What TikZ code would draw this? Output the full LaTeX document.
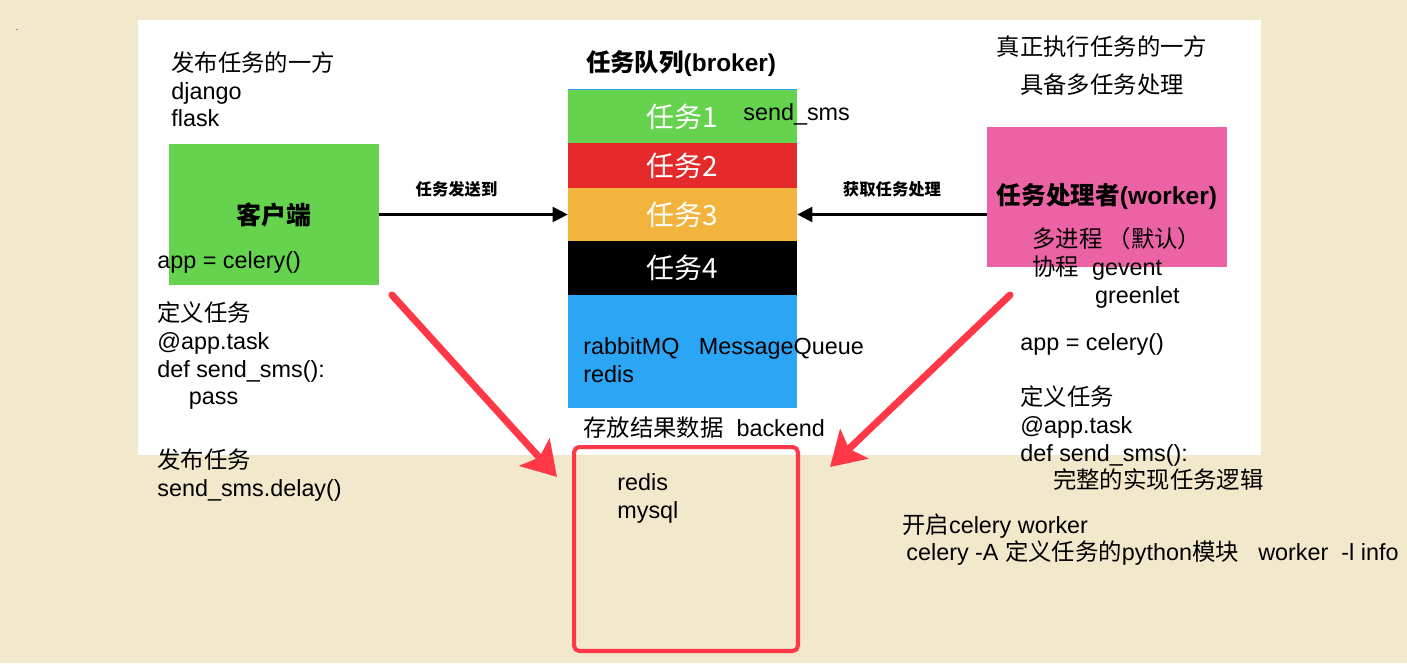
\documentclass[tikz,border=0pt]{standalone}
\usepackage{fontspec}
\setmainfont{Liberation Sans}
\newfontfamily\cjk{Noto Sans CJK SC}
\usetikzlibrary{arrows.meta, positioning}

\newcommand\zh[1]{{\cjk #1}}
\newcommand\bodyfont{\fontsize{13.3}{15.9}\selectfont}

\definecolor{paper}{HTML}{F2E8CC}
\definecolor{taskgreen}{HTML}{66D34E}
\definecolor{taskred}{HTML}{E42A2A}
\definecolor{taskorange}{HTML}{F2B43C}
\definecolor{mqblue}{HTML}{2BA6F5}
\definecolor{workerpink}{HTML}{EC63A5}
\definecolor{alertred}{HTML}{FF3848}

\tikzset{
  txt/.style={anchor=north west, inner sep=0pt, align=left, font=\bodyfont},
  seg/.style={minimum width=4.58cm, inner sep=0pt, text=white, font=\cjk\fontsize{15.9}{18}\selectfont},
  flow/.style={-{Triangle[length=8.5pt,width=8.5pt]}, line width=1.2pt},
  flowlbl/.style={above=0.2cm, font=\cjk\bfseries\fontsize{9.3}{11}\selectfont},
  hint/.style={alertred, line width=4pt, line cap=round, -{Stealth[length=19pt,width=23pt,inset=4pt]}},
}

\begin{document}
\begin{tikzpicture}[x=0.02cm, y=-0.02cm]
  \useasboundingbox (0,0) rectangle (1407,663);
  \fill[paper] (0,0) rectangle (1407,663);
  \fill[white] (138,20) rectangle (1261,455);
  \node[font=\fontsize{5}{6}\selectfont, inner sep=0pt] (dot) at (17,30) {.};

  % client side
  \node[fill=taskgreen, minimum width=4.2cm, minimum height=2.82cm, font=\cjk\bfseries\fontsize{14.2}{16}\selectfont] (client) at (274,214.5) {客户端};
  \node[txt] (pub) at (171,51) {\zh{发布任务的一方}\\django\\flask};
  \node[txt] (appl) at (157,251) {app = celery()};
  \node[txt] (defl) at (157,301) {\zh{定义任务}\\@app.task\\def send\_sms():\\\hspace*{18pt}pass};
  \node[txt] (publ) at (157,448) {\zh{发布任务}\\send\_sms.delay()};

  % broker column
  \node[font=\bfseries\fontsize{13.9}{16}\selectfont] (title) at (681,64) {\zh{任务队列}(broker)};
  \node[seg, fill=taskgreen, minimum height=1.06cm] (t1) at (682.5,116.5) {任务1};
  \node[seg, fill=taskred, minimum height=0.9cm] (t2) at (682.5,165.5) {任务2};
  \node[seg, fill=taskorange, minimum height=1.06cm] (t3) at (682.5,214.5) {任务3};
  \node[seg, fill=black, minimum height=1.08cm] (t4) at (682.5,268) {任务4};
  \node[fill=mqblue, minimum width=4.58cm, minimum height=2.26cm, inner sep=0pt] (mq) at (682.5,351.5) {};
  \draw[mqblue] (t1.north west) -- (t1.north east);
  \node[txt] (sms) at (743,103) {send\_sms};
  \node[txt] (brokers) at (583,337) {rabbitMQ\ \ \ MessageQueue\\redis};
  \node[txt] (backend) at (583,416) {\zh{存放结果数据}\ \ backend};

  % result store
  \node[draw=alertred, line width=2.3pt, rounded corners=3pt, minimum width=4.48cm, minimum height=4.08cm] (store) at (686,549) {};
  \node[txt] (stores) at (617,473) {redis\\mysql};

  % worker side
  \node[fill=workerpink, minimum width=4.8cm, minimum height=2.8cm, font=\bfseries\fontsize{14}{16}\selectfont] (worker) at (1107,197) {\zh{任务处理者}(worker)};
  \node[txt, align=center, anchor=north, font=\cjk\fontsize{13.3}{22.1}\selectfont] (execs) at (1102,35) {真正执行任务的一方\\具备多任务处理};
  \node[txt] (modes) at (1032,227) {\zh{多进程 （默认）}\\\zh{协程}\ \ gevent\\\hspace*{35.7pt}greenlet};
  \node[txt] (appr) at (1020,333) {app = celery()};
  \node[txt] (defr) at (1020,385) {\zh{定义任务}\\@app.task\\def send\_sms():\\\hspace*{18.7pt}\zh{完整的实现任务逻辑}};
  \node[txt] (run) at (902,513) {\zh{开启}celery worker\\\hspace*{2.3pt}celery -A \zh{定义任务的}python\zh{模块}\ \ \ worker\ \ -l info};

  % connectors
  \draw[flow] (client.east) -- node[flowlbl, pos=0.41] (sendlbl) {任务发送到} (t3.west);
  \draw[flow] (worker.west |- t3.east) -- node[flowlbl] (fetchlbl) {获取任务处理} (t3.east);
  \coordinate (cs) at (392,295);
  \coordinate (ce) at (557,477);
  \coordinate (ws) at (1010,295);
  \coordinate (we) at (830,467);
  \draw[hint] (cs) -- (ce);
  \draw[hint] (ws) -- (we);
\end{tikzpicture}
\end{document}
